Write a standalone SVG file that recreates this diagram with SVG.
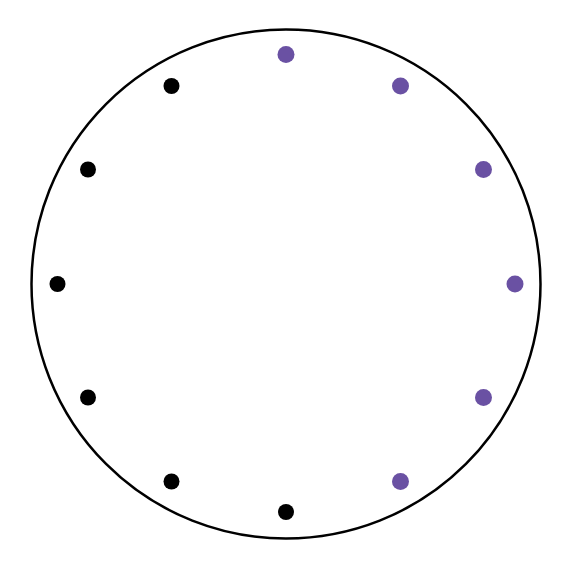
<svg xmlns="http://www.w3.org/2000/svg" width="572" height="569" viewBox="0 0 572 569">
<style>
.ring{fill:none;stroke:#000;stroke-width:2.5}
.p{fill:#6a51a3}
.b{fill:#000}
</style>
<rect width="572" height="569" fill="#fff"/>
<g id="ring"><circle class="ring" cx="286" cy="284" r="254.5"/></g>
<g id="n0"><circle class="p" cx="286" cy="54.5" r="8.5"/></g>
<g id="n1"><circle class="p" cx="400.5" cy="86" r="8.5"/></g>
<g id="n2"><circle class="p" cx="483.5" cy="169.5" r="8.5"/></g>
<g id="n3"><circle class="p" cx="515" cy="284" r="8.5"/></g>
<g id="n4"><circle class="p" cx="483.5" cy="397.5" r="8.5"/></g>
<g id="n5"><circle class="p" cx="400.5" cy="481.5" r="8.5"/></g>
<g id="n6"><circle class="b" cx="286" cy="512" r="8"/></g>
<g id="n7"><circle class="b" cx="171.5" cy="481.5" r="8"/></g>
<g id="n8"><circle class="b" cx="88" cy="397.5" r="8"/></g>
<g id="n9"><circle class="b" cx="57.5" cy="284" r="8"/></g>
<g id="n10"><circle class="b" cx="88" cy="169.5" r="8"/></g>
<g id="n11"><circle class="b" cx="171.5" cy="86" r="8"/></g>
<g id="connectors"></g>
</svg>
